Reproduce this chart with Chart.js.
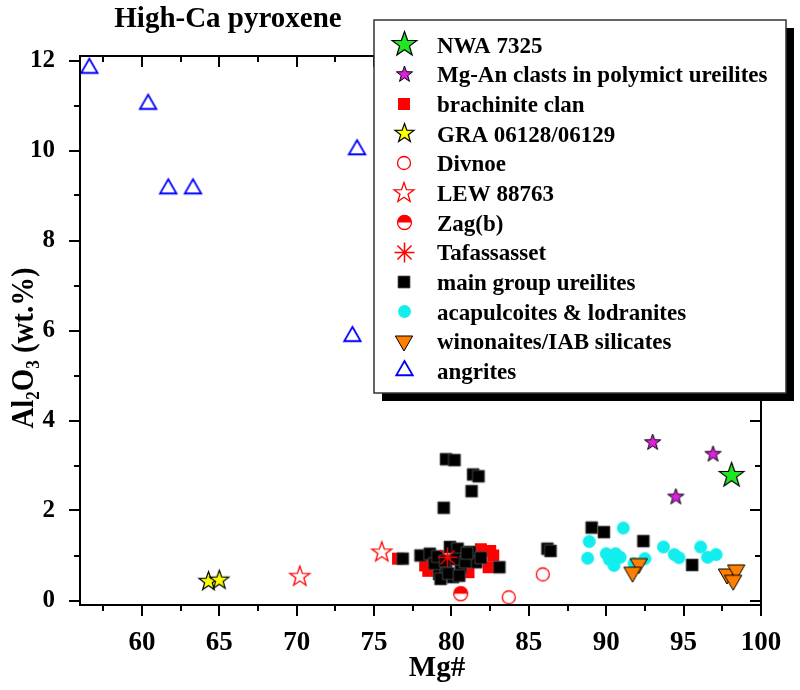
<!DOCTYPE html>
<html><head><meta charset="utf-8">
<script src="https://cdn.jsdelivr.net/npm/chart.js@4.4.1/dist/chart.umd.min.js"></script>
<style>html,body{margin:0;padding:0;background:#fff}canvas{display:block}</style>
</head><body>
<canvas id="c" width="800" height="690"></canvas>
<script>
const SERIF = '"Liberation Serif", "Times New Roman", serif';
const chartTitle = 'High-Ca pyroxene';
const xAxisTitle = 'Mg#';
const xTicks = [60, 65, 70, 75, 80, 85, 90, 95, 100];
const xMinorTicks = [57.5, 62.5, 67.5, 72.5, 77.5, 82.5, 87.5, 92.5, 97.5];
const yTicks = [0, 2, 4, 6, 8, 10, 12];
const yMinorTicks = [1, 3, 5, 7, 9, 11];

const seriesNames = ['NWA 7325', 'Mg-An clasts in polymict ureilites', 'brachinite clan', 'GRA 06128/06129',
  'Divnoe', 'LEW 88763', 'Zag(b)', 'Tafassasset', 'main group ureilites', 'acapulcoites & lodranites',
  'winonaites/IAB silicates', 'angrites'];

// [Mg#, Al2O3 wt.%]
const nwa7325 = [[98.1, 2.78]];
const mgAnClasts = [[93.0, 3.51], [96.9, 3.25], [94.5, 2.30]];
const brachiniteClan = [[76.55, 0.93], [78.5, 0.66], [80.6, 0.98], [81.1, 0.63], [81.9, 1.14], [82.5, 1.10], [82.4, 0.74], [82.7, 1.00], [78.3, 0.78]];
const gra06128 = [[64.3, 0.42], [65.0, 0.45]];
const divnoe = [[83.7, 0.07], [85.9, 0.58]];
const lew88763 = [[70.2, 0.53], [75.5, 1.07]];
const zagB = [[80.6, 0.15]];
const tafassasset = [[79.75, 0.96]];
const mainGroupUreilites = [[79.65, 3.14], [80.2, 3.12], [81.4, 2.80], [81.75, 2.76], [81.3, 2.43], [79.5, 2.06],
  [76.85, 0.93], [78.0, 1.00], [78.6, 1.04], [79.2, 0.59], [80.1, 0.52], [79.9, 1.19], [80.4, 1.15], [81.2, 1.08],
  [81.6, 0.85], [80.6, 0.74], [79.65, 0.71], [83.1, 0.74], [78.9, 0.82], [79.3, 0.48],
  [79.1, 0.98], [79.6, 0.88], [80.3, 0.92], [80.9, 0.86], [81.0, 1.05], [79.8, 0.60], [80.5, 0.55], [81.9, 0.95],
  [86.2, 1.15], [86.4, 1.10], [89.06, 1.62], [89.85, 1.52], [92.4, 1.32], [95.55, 0.79]];
const acapulcoites = [[91.1, 1.61], [88.9, 1.31], [88.8, 0.94], [90.0, 1.04], [90.6, 1.04], [90.9, 0.96], [90.5, 0.78],
  [90.2, 0.91], [91.8, 0.82], [92.5, 0.93], [93.7, 1.19], [94.4, 1.02], [94.7, 0.95], [96.1, 1.19], [96.55, 0.96], [97.1, 1.02]];
const winonaites = [[92.1, 0.82], [91.7, 0.63], [97.8, 0.59], [98.4, 0.68], [98.2, 0.45]];
const angrites = [[56.6, 11.83], [60.4, 11.03], [61.7, 9.15], [63.3, 9.15], [73.9, 10.02], [73.6, 5.87]];

const seriesData = [nwa7325, mgAnClasts, brachiniteClan, gra06128, divnoe, lew88763, zagB, tafassasset,
  mainGroupUreilites, acapulcoites, winonaites, angrites];

// marker styles (same order as seriesNames)
const markerSpecs = [
  {shape: 'star', R: 13, fill: '#22e622', stroke: '#000', lw: 1.2},
  {shape: 'star', R: 8.5, fill: '#e020e0', stroke: '#000', lw: 1},
  {shape: 'square', R: 6, fill: '#ff0000'},
  {shape: 'star', R: 10, fill: '#ffff00', stroke: '#000', lw: 1.2},
  {shape: 'circle', R: 6.5, stroke: '#ff0000', lw: 1.3},
  {shape: 'star', R: 10.5, stroke: '#ff0000', lw: 1.3},
  {shape: 'half', R: 7, fill: '#ff0000', stroke: '#ff0000', lw: 1.3},
  {shape: 'asterisk', R: 10, stroke: '#ff0000', lw: 1.5},
  {shape: 'square', R: 6, fill: '#000000', stroke: '#555', lw: 0.8},
  {shape: 'circle', R: 6.5, fill: '#12eeee'},
  {shape: 'triDown', R: 10, fill: '#ff8000', stroke: '#000', lw: 1},
  {shape: 'triUp', R: 9.5, stroke: '#0000ff', lw: 1.8}
];
// drawing stack, bottom to top
const drawStack = ['angrites', 'brachinite clan', 'main group ureilites', 'acapulcoites & lodranites',
  'winonaites/IAB silicates', 'Divnoe', 'LEW 88763', 'Zag(b)', 'Tafassasset', 'GRA 06128/06129',
  'Mg-An clasts in polymict ureilites', 'NWA 7325'];

function makeMarker(spec) {
  const lw = spec.lw || 0;
  const s = Math.ceil(2 * spec.R + 2 * lw + 4);
  const c = document.createElement('canvas');
  c.width = s; c.height = s;
  const g = c.getContext('2d');
  const cx = s / 2, cy = s / 2, R = spec.R;
  g.lineWidth = lw;
  g.lineJoin = 'miter';
  g.fillStyle = spec.fill || 'rgba(0,0,0,0)';
  g.strokeStyle = spec.stroke || 'rgba(0,0,0,0)';
  g.beginPath();
  if (spec.shape === 'star') {
    for (let i = 0; i < 10; i++) {
      const r = i % 2 ? R * 0.4 : R;
      const a = -Math.PI / 2 + i * Math.PI / 5;
      g.lineTo(cx + r * Math.cos(a), cy + r * Math.sin(a));
    }
    g.closePath();
  } else if (spec.shape === 'square') {
    g.rect(cx - R, cy - R, 2 * R, 2 * R);
  } else if (spec.shape === 'circle') {
    g.arc(cx, cy, R, 0, Math.PI * 2);
  } else if (spec.shape === 'triUp' || spec.shape === 'triDown') {
    const base = spec.shape === 'triUp' ? -Math.PI / 2 : Math.PI / 2;
    for (let i = 0; i < 3; i++) {
      const a = base + i * 2 * Math.PI / 3;
      g.lineTo(cx + R * Math.cos(a), cy + R * Math.sin(a));
    }
    g.closePath();
  } else if (spec.shape === 'asterisk') {
    for (let i = 0; i < 4; i++) {
      const a = i * Math.PI / 4;
      g.moveTo(cx - R * Math.cos(a), cy - R * Math.sin(a));
      g.lineTo(cx + R * Math.cos(a), cy + R * Math.sin(a));
    }
    g.stroke();
    return c;
  } else if (spec.shape === 'half') {
    g.fillStyle = '#fff';
    g.arc(cx, cy, R, 0, Math.PI * 2); g.fill();
    g.beginPath(); g.fillStyle = spec.fill;
    g.arc(cx, cy, R, Math.PI, Math.PI * 2); g.closePath(); g.fill();
    g.beginPath(); g.arc(cx, cy, R, 0, Math.PI * 2); g.stroke();
    return c;
  }
  if (spec.fill) g.fill();
  if (lw && spec.stroke) g.stroke();
  return c;
}

const markerCanvases = markerSpecs.map(makeMarker);

const datasets = seriesNames.map((name, i) => ({
  label: name,
  data: seriesData[i].map(p => ({x: p[0], y: p[1]})),
  pointStyle: markerCanvases[i],
  pointRadius: markerSpecs[i].R,
  pointHoverRadius: markerSpecs[i].R,
  backgroundColor: markerSpecs[i].fill || 'rgba(0,0,0,0)',
  borderColor: markerSpecs[i].stroke || 'rgba(0,0,0,0)',
  showLine: false,
  order: drawStack.length - drawStack.indexOf(name)
}));

const decorPlugin = {
  id: 'decor',
  afterDatasetsDraw(chart) {
    const {ctx, chartArea: a, scales: {x, y}} = chart;
    ctx.save();
    ctx.strokeStyle = '#000';
    ctx.lineWidth = 2;
    const L = Math.round(a.left), R = Math.round(a.right), T = Math.round(a.top), B = Math.round(a.bottom);
    ctx.strokeRect(L, T, R - L, B - T);
    const line = (x1, y1, x2, y2) => { ctx.beginPath(); ctx.moveTo(x1, y1); ctx.lineTo(x2, y2); ctx.stroke(); };
    xTicks.forEach(v => { const p = Math.round(x.getPixelForValue(v)); line(p, B, p, B + 11); line(p, T, p, T + 11); });
    xMinorTicks.forEach(v => { const p = Math.round(x.getPixelForValue(v)); line(p, B, p, B + 6); line(p, T, p, T + 6); });
    yTicks.forEach(v => { const p = Math.round(y.getPixelForValue(v)); line(L - 11, p, L, p); line(R, p, R - 11, p); });
    yMinorTicks.forEach(v => { const p = Math.round(y.getPixelForValue(v)); line(L - 6, p, L, p); line(R, p, R - 6, p); });
    ctx.restore();
  },
  afterDraw(chart) {
    const ctx = chart.ctx;
    ctx.save();
    ctx.fillStyle = '#000';
    // chart title
    ctx.font = 'bold 29px ' + SERIF;
    ctx.textAlign = 'center';
    ctx.textBaseline = 'alphabetic';
    ctx.fillText(chartTitle, 228, 27);
    // x axis title
    ctx.fillText(xAxisTitle, 437, 676);
    // y axis title with subscripts
    ctx.save();
    ctx.translate(33, 348);
    ctx.rotate(-Math.PI / 2);
    ctx.scale(0.9, 1);
    const parts = [['Al', false], ['2', true], ['O', false], ['3', true], [' (wt.%)', false]];
    const bigF = 'bold 32px ' + SERIF, smallF = 'bold 19px ' + SERIF;
    let total = 0;
    parts.forEach(p => { ctx.font = p[1] ? smallF : bigF; total += ctx.measureText(p[0]).width; });
    let cx = -total / 2;
    ctx.textAlign = 'left';
    parts.forEach(p => {
      ctx.font = p[1] ? smallF : bigF;
      ctx.fillText(p[0], cx, p[1] ? 6 : 0);
      cx += ctx.measureText(p[0]).width;
    });
    ctx.restore();
    // legend box
    const box = {x: 374, y: 20, w: 412, h: 373, sh: 8};
    ctx.fillStyle = '#000';
    ctx.fillRect(box.x + box.sh, box.y + box.sh, box.w, box.h);
    ctx.fillStyle = '#fff';
    ctx.fillRect(box.x, box.y, box.w, box.h);
    ctx.strokeStyle = '#333';
    ctx.lineWidth = 1.5;
    ctx.strokeRect(box.x, box.y, box.w, box.h);
    ctx.font = 'bold 23px ' + SERIF;
    ctx.textAlign = 'left';
    ctx.fillStyle = '#000';
    seriesNames.forEach((name, i) => {
      const yy = 44.5 + i * 29.68;
      const m = markerCanvases[i];
      ctx.drawImage(m, Math.round(404 - m.width / 2), Math.round(yy - m.height / 2));
      ctx.fillText(name, 437, yy + 8);
    });
    ctx.restore();
  }
};

new Chart(document.getElementById('c'), {
  type: 'scatter',
  data: {datasets},
  options: {
    responsive: false,
    animation: false,
    events: [],
    layout: {padding: {top: 56, right: 39, left: 0, bottom: 0}},
    plugins: {legend: {display: false}, tooltip: {enabled: false}, title: {display: false}},
    scales: {
      x: {
        type: 'linear', min: 56, max: 100,
        afterBuildTicks: s => { s.ticks = xTicks.map(v => ({value: v})); },
        afterFit: s => { s.height = 85; },
        grid: {display: false},
        border: {display: false},
        ticks: {font: {family: SERIF, size: 27, weight: 'bold'}, color: '#000', padding: 14, maxRotation: 0, autoSkip: false}
      },
      y: {
        type: 'linear', min: -0.1, max: 12.1,
        afterBuildTicks: s => { s.ticks = yTicks.map(v => ({value: v})); },
        afterFit: s => { s.width = 80; },
        grid: {display: false},
        border: {display: false},
        ticks: {font: {family: SERIF, size: 25, weight: 'bold'}, color: '#000', padding: 17, autoSkip: false}
      }
    }
  },
  plugins: [decorPlugin]
});
</script>
</body></html>
